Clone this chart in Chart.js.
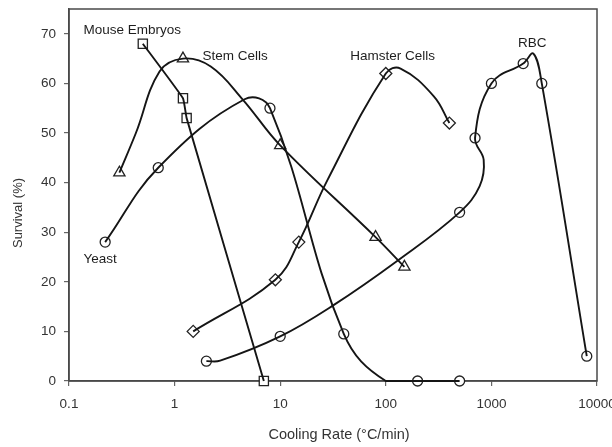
<!DOCTYPE html>
<html>
<head>
<meta charset="utf-8">
<script src="https://cdn.jsdelivr.net/npm/chart.js@4"></script>
<style>
  html, body { margin: 0; padding: 0; background: #fff; overflow: hidden; }
  canvas { display: block; }
</style>
</head>
<body>
<canvas id="chart" width="640" height="447"></canvas>
<script>
// Measured points: cooling rate (°C/min) and survival (%)
const mouseRate = [0.5, 1.2, 1.3, 7];
const mouseSurv = [68, 57, 53, 0];

const stemRate = [0.3, 1.2, 10, 80, 150];
const stemSurv = [42, 65, 47.5, 29, 23];

const yeastRate = [0.22, 0.7, 8, 40, 200, 500];
const yeastSurv = [28, 43, 55, 9.5, 0, 0];

const hamsterRate = [1.5, 9, 15, 100, 400];
const hamsterSurv = [10, 20.4, 28, 62, 52];

const rbcRate = [2, 10, 500, 700, 1000, 2000, 3000, 8000];
const rbcSurv = [4, 9, 34, 49, 60, 64, 60, 5];

const mouseCurveRate = mouseRate;
const mouseCurveSurv = mouseSurv;

const stemCurveRate = [0.3, 0.43, 0.72, 1.2, 2.2, 4.4, 10, 80, 150];
const stemCurveSurv = [42, 50, 62.4, 65, 63.4, 56.8, 47.5, 29, 23];

const yeastCurveRate = [0.22, 0.7, 4.6, 8, 40, 100, 200, 500];
const yeastCurveSurv = [28, 43, 56.8, 55, 9.5, 0, 0, 0];

const hamsterCurveRate = [1.5, 9, 15, 28, 100, 138, 285, 400];
const hamsterCurveSurv = [10, 20.4, 28, 40.5, 62, 63, 57.4, 52];

const rbcCurveRate = [2, 2.7, 10, 32, 128, 500, 774, 845, 700, 1000, 2000, 2500, 3000, 8000];
const rbcCurveSurv = [4, 4.1, 9, 15.3, 24.2, 34, 39.3, 44.6, 49, 60, 64, 66, 60, 5];

// Axis ticks
const xTicks = [0.1, 1, 10, 100, 1000, 10000];
const xTickLabels = ['0.1', '1', '10', '100', '1000', '10000'];
const yTicks = [0, 10, 20, 30, 40, 50, 60, 70];

// Series names, anchored at (rate, survival)
const seriesLabels = [
  { text: 'Mouse Embryos', rate: 0.137, surv: 70.8 },
  { text: 'Stem Cells', rate: 1.84, surv: 65.4 },
  { text: 'Hamster Cells', rate: 46, surv: 65.5 },
  { text: 'RBC', rate: 1790, surv: 68.1 },
  { text: 'Yeast', rate: 0.137, surv: 24.6 }
];

const FONT = '"Liberation Sans", Arial, sans-serif';
const INK = '#151515';

function pts(xs, ys) {
  return xs.map((x, i) => ({ x, y: ys[i] }));
}

function curve(xs, ys, tension) {
  return {
    data: pts(xs, ys),
    showLine: true,
    tension,
    borderColor: INK,
    borderWidth: 1.9,
    pointRadius: 0,
    clip: false
  };
}

function markers(xs, ys, style, radius) {
  return {
    data: pts(xs, ys),
    showLine: false,
    pointStyle: style,
    pointRadius: radius,
    pointBorderColor: '#222',
    pointBackgroundColor: '#fff',
    pointBorderWidth: 1.3,
    clip: false
  };
}

// Frame, series names and axis titles
const decorations = {
  id: 'decorations',
  beforeDatasetsDraw(chart) {
    const { ctx, chartArea: a } = chart;
    ctx.save();
    ctx.strokeStyle = '#4a4a4a';
    ctx.lineWidth = 1.5;
    ctx.strokeRect(a.left, a.top, a.right - a.left, a.bottom - a.top);
    ctx.restore();
  },
  afterDraw(chart) {
    const { ctx, scales: { x, y } } = chart;
    ctx.save();
    ctx.fillStyle = '#1e1e1e';
    ctx.textBaseline = 'middle';
    ctx.font = '13.5px ' + FONT;
    seriesLabels.forEach(l => {
      ctx.fillText(l.text, x.getPixelForValue(l.rate), y.getPixelForValue(l.surv));
    });

    ctx.fillStyle = '#333';
    ctx.textAlign = 'center';
    ctx.font = '14.5px ' + FONT;
    ctx.fillText('Cooling Rate (°C/min)', 339, 435);

    ctx.translate(18, 213);
    ctx.rotate(-Math.PI / 2);
    ctx.font = '13px ' + FONT;
    ctx.fillText('Survival (%)', 0, 0);
    ctx.restore();
  }
};

const ctx = document.getElementById('chart').getContext('2d');
new Chart(ctx, {
  type: 'scatter',
  data: {
    datasets: [
      curve(mouseCurveRate, mouseCurveSurv, 0.1),
      curve(stemCurveRate, stemCurveSurv, 0.4),
      curve(yeastCurveRate, yeastCurveSurv, 0.4),
      curve(hamsterCurveRate, hamsterCurveSurv, 0.4),
      curve(rbcCurveRate, rbcCurveSurv, 0.4),
      markers(mouseRate, mouseSurv, 'rect', 6.5),
      markers(stemRate, stemSurv, 'triangle', 6.5),
      markers(yeastRate, yeastSurv, 'circle', 5),
      markers(hamsterRate, hamsterSurv, 'rectRot', 6),
      markers(rbcRate, rbcSurv, 'circle', 5)
    ]
  },
  options: {
    responsive: false,
    animation: false,
    layout: { padding: { left: 0, top: 9, right: 43, bottom: 0 } },
    plugins: {
      legend: { display: false },
      tooltip: { enabled: false }
    },
    scales: {
      x: {
        type: 'logarithmic',
        min: 0.1,
        max: 10000,
        afterBuildTicks: scale => { scale.ticks = xTicks.map(v => ({ value: v })); },
        afterFit: scale => {
          scale.height = 66;
          scale.paddingLeft = 0;
          scale.paddingRight = 0;
        },
        ticks: {
          callback: (v, i) => xTickLabels[i],
          font: { family: FONT, size: 13.5 },
          color: '#333',
          padding: 10,
          maxRotation: 0,
          autoSkip: false
        },
        grid: { drawOnChartArea: false, tickLength: 5, color: '#666', lineWidth: 1.2 },
        border: { color: '#4a4a4a', width: 1.5 }
      },
      y: {
        min: 0,
        max: 75,
        afterBuildTicks: scale => { scale.ticks = yTicks.map(v => ({ value: v })); },
        afterFit: scale => {
          scale.width = 69;
          scale.paddingTop = 0;
          scale.paddingBottom = 0;
        },
        ticks: {
          font: { family: FONT, size: 13.5 },
          color: '#333',
          padding: 8
        },
        grid: { drawOnChartArea: false, tickLength: 5, color: '#666', lineWidth: 1.2 },
        border: { color: '#4a4a4a', width: 1.5 }
      }
    }
  },
  plugins: [decorations]
});
</script>
</body>
</html>
